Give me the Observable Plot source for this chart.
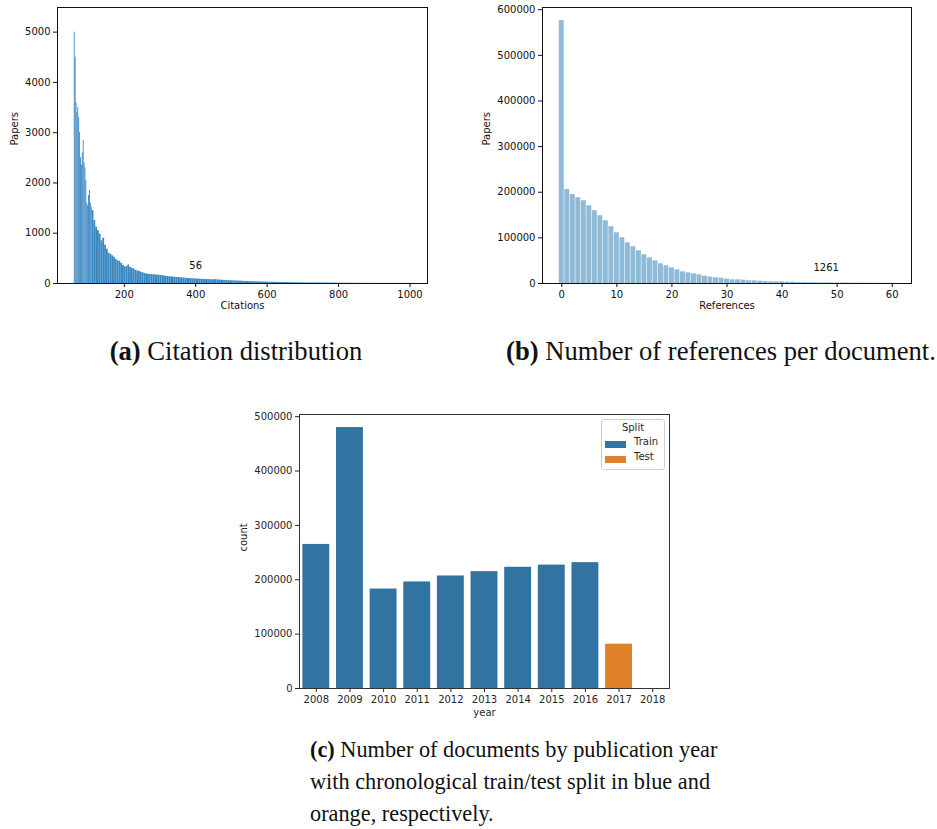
<!DOCTYPE html>
<html><head><meta charset="utf-8">
<script src="https://cdn.jsdelivr.net/npm/d3@7"></script>
<script src="https://cdn.jsdelivr.net/npm/@observablehq/plot@0.6"></script>
<style>
body{margin:0;background:#fff;}
#page{position:relative;width:937px;height:829px;overflow:hidden;background:#fff;}
.panel{position:absolute;}
.cap{position:absolute;font-family:"Liberation Serif",serif;line-height:32px;color:#111;white-space:nowrap;}
#legend{position:absolute;left:601px;top:419px;width:62px;height:49px;border:1px solid #d0d0d0;border-radius:3px;background:rgba(255,255,255,0.85);font-family:"DejaVu Sans",sans-serif;font-size:10px;color:#262626;}
#legend .t{position:absolute;left:0;width:62px;top:2px;text-align:center;}
#legend .sw{position:absolute;left:3px;width:21px;height:7px;}
#legend .lb{position:absolute;left:32px;}
</style></head><body>
<div id="page">
  <div id="pa" class="panel" style="left:0;top:0"></div>
  <div id="pb" class="panel" style="left:460px;top:0"></div>
  <div id="pc" class="panel" style="left:230px;top:410px"></div>
  <div id="legend">
    <div class="t">Split</div>
    <div class="sw" style="top:21px;background:#3274a1"></div><div class="lb" style="top:16px">Train</div>
    <div class="sw" style="top:36px;background:#e1812c"></div><div class="lb" style="top:31px">Test</div>
  </div>
  <div class="cap" style="left:-2px;top:335px;width:476px;text-align:center;font-size:26.6px"><b>(a)</b> Citation distribution</div>
  <div class="cap" style="left:471px;top:335px;width:500px;text-align:center;font-size:26.6px"><b>(b)</b> Number of references per document.</div>
  <div class="cap" style="left:310px;top:734px;font-size:22.3px"><b>(c)</b> Number of documents by publication year<br>with chronological train/test split in blue and<br>orange, respectively.</div>
</div>
<script>
// ---------- Panel (a): citation histogram ----------
// fine bins of width 2.5 from 60 to 110, then bins of width 5 from 110 to 1000
const citationFineStart = 60;
const citationFineWidth = 2.5;
const citationFineCounts = [
  5000, 4500, 3600, 3400, 3500, 3300, 3000, 2500, 2350, 2600,
  2850, 2400, 2300, 2050, 1600, 1550, 1750, 1850, 1600, 1520
];
const citationBinStart = 110;
const citationBinWidth = 5;
const citationCounts = [
  1450, 1250, 1120, 1050, 980, 850, 900, 760, 680, 600,
  580, 550, 520, 480, 450, 440, 400, 360, 330, 340,
  370, 320, 300, 290, 260, 250, 240, 225, 215, 200,
  190, 185, 180, 178, 175, 170, 168, 165, 160, 155,
  150, 145, 140, 135, 130, 127, 124, 121, 118, 115,
  112, 108, 105, 102, 100, 97, 95, 92, 90, 88,
  86, 84, 82, 80, 79, 77, 76, 74, 72, 78,
  70, 68, 65, 63, 61, 59, 57, 55, 53, 52,
  50, 49, 47, 46, 44, 43, 41, 40, 38, 37,
  36, 34, 33, 32, 31, 30, 29, 28,
  26, 25, 24, 24, 23, 22, 21, 21, 20, 19,
  19, 18, 18, 17, 16, 16, 15, 15, 14, 14,
  13, 13, 12, 12, 12, 11, 11, 10, 10, 10,
  9, 12, 9, 8, 8, 8, 7, 7, 7, 7,
  6, 6, 6, 6, 5, 5, 5, 5, 5, 4,
  4, 4, 4, 4, 4, 3, 3, 3, 3, 3,
  3, 3, 3, 3, 2, 2, 2, 2, 2, 2,
  2, 2, 2, 2, 2, 2, 2, 2, 2, 2
];
const citationXTicks = [200, 400, 600, 800, 1000];
const citationYTicks = [0, 1000, 2000, 3000, 4000, 5000];
const citationNote = [{x: 400, y: 350, label: "56"}];

// ---------- Panel (b): references per document ----------
const refCounts = [
  576000, 206000, 195000, 188000, 181400, 170400, 159500, 148500, 137500, 124400,
  111200, 100200, 89200, 80500, 71700, 62900, 56300, 49700, 43200, 38800,
  34400, 30000, 25600, 23400, 21200, 19000, 16100, 13900, 12400, 11700,
  9500, 8000, 8000, 7300, 5900, 5900, 5100, 4400, 3700, 3700,
  3500, 3000, 2800, 2200, 2000, 1800, 1700, 1500, 1400, 1300,
  1261, 1100, 1000, 900, 800, 750, 700, 600, 550, 500, 450
];
const refXTicks = [0, 10, 20, 30, 40, 50, 60];
const refYTicks = [0, 100000, 200000, 300000, 400000, 500000, 600000];
const refNote = [{x: 48, y: 34000, label: "1261"}];

// ---------- Panel (c): documents per year ----------
const years = ["2008","2009","2010","2011","2012","2013","2014","2015","2016","2017","2018"];
const yearCounts = [265000, 480000, 183000, 196000, 207000, 215000, 223000, 227000, 231500, 81500, 0];
const yearSplit = ["Train","Train","Train","Train","Train","Train","Train","Train","Train","Test","Test"];
const splitNames = ["Train", "Test"];
const splitColors = ["#3274a1", "#e1812c"];
const yearYTicks = [0, 100000, 200000, 300000, 400000, 500000];

const baseStyle = {fontFamily: "'DejaVu Sans', sans-serif", fontSize: "10px", color: "#111", background: "transparent", overflow: "visible"};
const fmt = d3.format("d");

const citData = [
  ...citationFineCounts.map((n, i) => ({
    x1: citationFineStart + i * citationFineWidth,
    x2: citationFineStart + (i + 1) * citationFineWidth,
    n
  })),
  ...citationCounts.map((n, i) => ({
    x1: citationBinStart + i * citationBinWidth,
    x2: citationBinStart + (i + 1) * citationBinWidth,
    n
  }))
];
const pa = Plot.plot({
  width: 440, height: 320, marginLeft: 57, marginRight: 13, marginTop: 7, marginBottom: 37,
  style: baseStyle,
  x: {domain: [13, 1049]},
  y: {domain: [0, 5490]},
  marks: [
    Plot.rectY(citData, {x1: "x1", x2: "x2", y: "n", fill: "#3a87c0"}),
    Plot.axisX({ticks: citationXTicks, tickSize: 4, tickPadding: 3, label: null, tickFormat: fmt}),
    Plot.axisY({ticks: citationYTicks, tickSize: 4, tickPadding: 3, label: null, tickFormat: fmt}),
    Plot.frame({stroke: "#111"}),
    Plot.text(citationNote, {x: "x", y: "y", text: "label", fill: "#111"}),
    Plot.text(["Papers"], {text: d => d, frameAnchor: "left", dx: -43, rotate: -90, fill: "#111"}),
    Plot.text(["Citations"], {text: d => d, frameAnchor: "bottom", dy: 25, fill: "#111"})
  ]
});
document.getElementById("pa").appendChild(pa);

const refData = refCounts.map((n, k) => ({k, n}));
const pb = Plot.plot({
  width: 477, height: 320, marginLeft: 82, marginRight: 26, marginTop: 7, marginBottom: 37,
  style: baseStyle,
  x: {domain: [-3.5, 63.5]},
  y: {domain: [0, 604800]},
  marks: [
    Plot.rectY(refData, {x1: d => d.k - 0.45, x2: d => d.k + 0.45, y: "n", fill: "#8fbbd9"}),
    Plot.axisX({ticks: refXTicks, tickSize: 4, tickPadding: 3, label: null, tickFormat: fmt}),
    Plot.axisY({ticks: refYTicks, tickSize: 4, tickPadding: 3, label: null, tickFormat: fmt}),
    Plot.frame({stroke: "#111"}),
    Plot.text(refNote, {x: "x", y: "y", text: "label", fill: "#111"}),
    Plot.text(["Papers"], {text: d => d, frameAnchor: "left", dx: -56, rotate: -90, fill: "#111"}),
    Plot.text(["References"], {text: d => d, frameAnchor: "bottom", dy: 25, fill: "#111"})
  ]
});
document.getElementById("pb").appendChild(pb);

const yearData = years.map((year, i) => ({year, count: yearCounts[i], split: yearSplit[i]}));
const pc = Plot.plot({
  width: 450, height: 320, marginLeft: 69, marginRight: 11, marginTop: 4, marginBottom: 42,
  style: {...baseStyle, color: "#262626"},
  x: {type: "band", domain: years, paddingInner: 0.2, paddingOuter: 0.1, align: 0.5, round: false},
  y: {domain: [0, 504000]},
  color: {domain: splitNames, range: splitColors},
  marks: [
    Plot.barY(yearData, {x: "year", y: "count", fill: "split"}),
    Plot.axisX({tickSize: 4, tickPadding: 3, label: null}),
    Plot.axisY({ticks: yearYTicks, tickSize: 4, tickPadding: 3, label: null, tickFormat: fmt}),
    Plot.frame({stroke: "#333"}),
    Plot.text(["count"], {text: d => d, frameAnchor: "left", dx: -56, rotate: -90, fill: "#262626"}),
    Plot.text(["year"], {text: d => d, frameAnchor: "bottom", dy: 27, fill: "#262626"})
  ]
});
document.getElementById("pc").appendChild(pc);
</script>
</body></html>
